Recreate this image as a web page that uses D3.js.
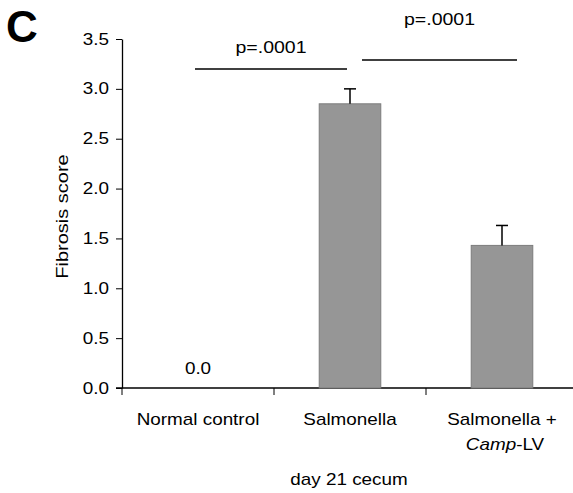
<!DOCTYPE html>
<html>
<head>
<meta charset="utf-8">
<script src="https://cdn.jsdelivr.net/npm/d3@7"></script>
<style>
  body { margin: 0; background: #fff; }
  svg text { font-family: "Liberation Sans", Arial, sans-serif; fill: #000; }
</style>
</head>
<body>
<div id="chart"></div>
<script>
const width = 573;
const height = 493;
const margin = { top: 39, right: 0, bottom: 105, left: 122 };
const stretch = 1.18; // source figure text is a bit wider than Arial

const categories = ["Normal control", "Salmonella", "Salmonella +"];
const scores = [0, 2.85, 1.43];
const errors = [0, 0.15, 0.2];
const yTicks = [0, 0.5, 1, 1.5, 2, 2.5, 3, 3.5];
// significance bars: from/to category index, height, label
const brackets = [
  { from: 0, to: 1, y: 3.2, label: "p=.0001", dxFrom: -3, dxTo: -3, labelY: 3.36 },
  { from: 1, to: 2, y: 3.29, label: "p=.0001", dxFrom: 12, dxTo: 15, labelY: 3.64 },
];

const svg = d3
  .select("#chart")
  .append("svg")
  .attr("width", width)
  .attr("height", height);

// text drawn in a group so it can be stretched sideways
function addText(parent, x, y, str, anchor, sx, rotate) {
  const g = parent
    .append("g")
    .attr("transform", `translate(${x},${y})` + (rotate ? ` rotate(${rotate})` : "") + ` scale(${sx || stretch},1)`);
  return g
    .append("text")
    .attr("text-anchor", anchor || "middle")
    .attr("font-size", 16)
    .text(str);
}

const x = d3
  .scaleBand()
  .domain(categories)
  .range([margin.left, margin.left + 152 * 3])
  .paddingInner(0)
  .paddingOuter(0);

const y = d3
  .scaleLinear()
  .domain([0, 3.5])
  .range([height - margin.bottom, margin.top]);

const barW = x.bandwidth() * 0.405;

// y axis
const yAxis = svg
  .append("g")
  .attr("transform", `translate(${margin.left},0)`)
  .call(d3.axisLeft(y).tickValues(yTicks).tickFormat("").tickSize(6).tickSizeOuter(0));
yAxis.select(".domain").attr("stroke-width", 1.3);
yTicks.forEach((t) => {
  addText(svg, margin.left - 13, y(t) + 5.5, d3.format(".1f")(t), "end");
});

// x axis line + ticks at category boundaries
const y0 = y(0);
svg
  .append("line")
  .attr("x1", margin.left - 6)
  .attr("x2", width)
  .attr("y1", y0)
  .attr("y2", y0)
  .attr("stroke", "#000")
  .attr("stroke-width", 1.3);
svg
  .append("g")
  .selectAll("line")
  .data(categories)
  .join("line")
  .attr("x1", (d) => x(d))
  .attr("x2", (d) => x(d))
  .attr("y1", y0)
  .attr("y2", y0 + 7)
  .attr("stroke", "#000");

// bars
const bars = scores.map((v, i) => ({ cat: categories[i], v, e: errors[i] })).filter((d) => d.v > 0);
svg
  .append("g")
  .selectAll("rect")
  .data(bars)
  .join("rect")
  .attr("x", (d) => x(d.cat) + x.bandwidth() / 2 - barW / 2)
  .attr("y", (d) => y(d.v))
  .attr("width", barW)
  .attr("height", (d) => y0 - y(d.v))
  .attr("fill", "#969696")
  .attr("stroke", "#7c7c7c")
  .attr("stroke-width", 1);

// error bars
const eg = svg.append("g").attr("stroke", "#000").attr("stroke-width", 1.5);
bars.forEach((d) => {
  const cx = x(d.cat) + x.bandwidth() / 2;
  eg.append("line").attr("x1", cx).attr("x2", cx).attr("y1", y(d.v)).attr("y2", y(d.v + d.e));
  eg.append("line").attr("x1", cx - 6).attr("x2", cx + 6).attr("y1", y(d.v + d.e)).attr("y2", y(d.v + d.e));
});

// zero label
scores.forEach((v, i) => {
  if (v === 0) {
    addText(svg, x(categories[i]) + x.bandwidth() / 2, y0 - 14, d3.format(".1f")(v));
  }
});

// significance brackets
brackets.forEach((b) => {
  const x1 = x(categories[b.from]) + x.bandwidth() / 2 + b.dxFrom;
  const x2 = x(categories[b.to]) + x.bandwidth() / 2 + b.dxTo;
  svg
    .append("line")
    .attr("x1", x1)
    .attr("x2", x2)
    .attr("y1", y(b.y))
    .attr("y2", y(b.y))
    .attr("stroke", "#000")
    .attr("stroke-width", 1.5);
  addText(svg, (x1 + x2) / 2, y(b.labelY), b.label, "middle", 1.22);
});

// category labels
categories.forEach((c) => {
  addText(svg, x(c) + x.bandwidth() / 2, y0 + 37, c);
});
const second = addText(svg, x(categories[2]) + x.bandwidth() / 2 + 3, y0 + 62, "");
second.append("tspan").attr("font-style", "italic").text("Camp");
second.append("tspan").text("-LV");

// x axis title
addText(svg, 349, y0 + 97, "day 21 cecum");

// y axis title
addText(svg, 68, y(1.72), "Fibrosis score", "middle", 1.25, -90);

// panel letter
svg
  .append("text")
  .attr("x", 6)
  .attr("y", 42)
  .attr("font-size", 44)
  .attr("font-weight", "bold")
  .text("C");
</script>
</body>
</html>
